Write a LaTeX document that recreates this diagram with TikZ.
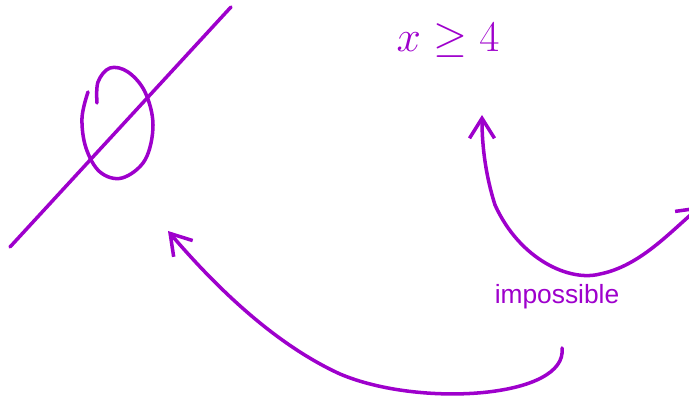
\documentclass[tikz,border=0pt]{standalone}
\usepackage{fontspec}
\setsansfont{Liberation Sans}
\usetikzlibrary{arrows.meta}
\definecolor{ink}{RGB}{158,0,204}
\begin{document}
\begin{tikzpicture}[x=0.02cm, y=-0.02cm,
  pen/.style={draw=ink, line width=2pt, line cap=round, line join=round},
  tip/.style={-{Straight Barb[length=4mm, width=5mm, line width=2pt]}},
  note/.style={text=ink, font=\sffamily}]
  \useasboundingbox (0,0) rectangle (689,404);
  % slanted line and the loop on it
  \coordinate (lineA) at (10,247);
  \coordinate (lineB) at (231,7);
  \draw[pen] (lineA) -- (lineB);
  \draw[pen] plot[smooth, tension=0.6] coordinates {(97,103) (98,82) (110,68) (128,72) (145,92) (153,125) (145,160) (122,178) (100,172) (86,148) (82,118) (88,92)};
  % labels
  \node[note, font=\fontsize{30}{32}\selectfont] (cond) at (448,40) {$x \geq 4$};
  \node[note, font=\sffamily\fontsize{15}{17}\selectfont] (imp) at (557,297) {impossible};
  % curved arrow with two heads
  \coordinate (upTip) at (482,115);
  \coordinate (rightTip) at (701,206);
  \draw[pen, tip] (495,205) .. controls (484,170) and (482,140) .. (upTip);
  \draw[pen, tip] (495,205) .. controls (520,260) and (570,282) .. (600,274)
    .. controls (640,266) and (670,232) .. (rightTip);
  % arrow back to the loop
  \coordinate (from) at (562,348);
  \coordinate (target) at (168,231);
  \draw[pen, tip] (from) .. controls (568,398) and (420,408) .. (340,374)
    .. controls (270,342) and (210,280) .. (target);
\end{tikzpicture}
\end{document}
